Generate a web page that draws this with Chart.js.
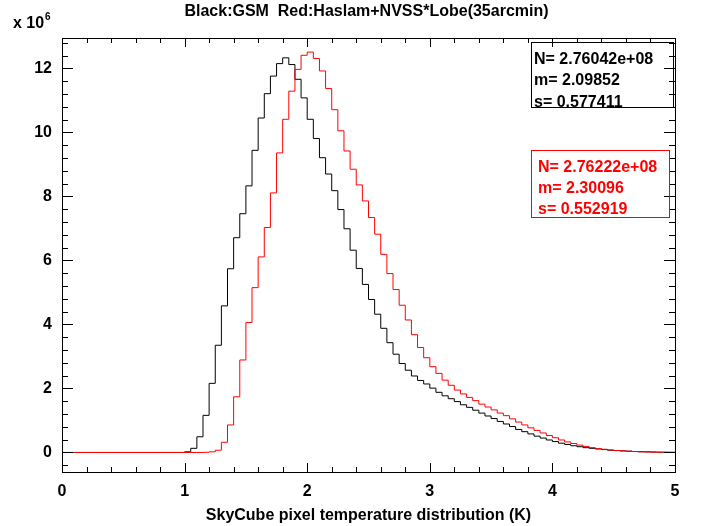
<!DOCTYPE html>
<html>
<head>
<meta charset="utf-8">
<script src="https://cdn.jsdelivr.net/npm/chart.js@4.4.0/dist/chart.umd.min.js"></script>
<style>
  html, body { margin: 0; padding: 0; background: #fff; }
  canvas { display: block; }
</style>
</head>
<body>
<canvas id="chart" width="701" height="526"></canvas>
<script>
"use strict";

// histogram bins: 100 bins of 0.05 K from 0 to 5 K
var binStart = 0;
var binWidth = 0.05;

// pixel counts per bin, in units of 10^6
var gsmCounts = [
  0, 0, 0, 0, 0, 0, 0, 0, 0, 0,
  0, 0, 0, 0, 0, 0, 0, 0, 0, 0,
  0.02, 0.13, 0.49, 1.16, 2.16, 3.35, 4.58, 5.74, 6.71, 7.46,
  8.33, 9.44, 10.45, 11.21, 11.76, 12.15, 12.33, 12.12, 11.66, 11.08,
  10.41, 9.81, 9.21, 8.70, 8.18, 7.59, 6.99, 6.32, 5.75, 5.25,
  4.78, 4.32, 3.88, 3.43, 3.07, 2.78, 2.57, 2.39, 2.25, 2.14,
  2.01, 1.88, 1.77, 1.68, 1.59, 1.49, 1.41, 1.32, 1.23, 1.14,
  1.06, 0.97, 0.89, 0.81, 0.72, 0.65, 0.58, 0.51, 0.45, 0.39,
  0.34, 0.29, 0.25, 0.21, 0.18, 0.15, 0.13, 0.11, 0.09, 0.07,
  0.06, 0.05, 0.04, 0.03, 0.025, 0.02, 0.015, 0.01, 0.007, 0.005
];

var haslamCounts = [
  0, 0, 0, 0, 0, 0, 0, 0, 0, 0,
  0, 0, 0, 0, 0, 0, 0, 0, 0, 0,
  0, 0, 0, 0.005, 0.02, 0.07, 0.32, 0.86, 1.74, 2.89,
  4.06, 5.15, 6.11, 7.03, 8.11, 9.36, 10.41, 11.29, 11.97, 12.41,
  12.51, 12.31, 11.92, 11.37, 10.71, 10.05, 9.42, 8.85, 8.36, 7.86,
  7.34, 6.82, 6.19, 5.59, 5.09, 4.60, 4.14, 3.68, 3.28, 2.96,
  2.68, 2.47, 2.26, 2.10, 1.95, 1.83, 1.72, 1.62, 1.51, 1.42,
  1.33, 1.23, 1.15, 1.05, 0.95, 0.86, 0.77, 0.69, 0.61, 0.53,
  0.46, 0.39, 0.33, 0.28, 0.23, 0.19, 0.15, 0.12, 0.10, 0.08,
  0.06, 0.05, 0.04, 0.03, 0.02, 0.015, 0.01, 0.007, 0.005, 0.003
];

var xTicks = [0, 1, 2, 3, 4, 5];
var yTicks = [0, 2, 4, 6, 8, 10, 12];

var gsmStats = ['N= 2.76042e+08', 'm= 2.09852', 's= 0.577411'];
var haslamStats = ['N= 2.76222e+08', 'm= 2.30096', 's= 0.552919'];

var titleText = 'Black:GSM  Red:Haslam+NVSS*Lobe(35arcmin)';
var xTitleText = 'SkyCube pixel temperature distribution (K)';

var FAMILY = '"Liberation Sans", Arial, Helvetica, sans-serif';
var RED = '#ff0000';

// left edge of every bin + closing edge, value held until next edge
function toSteps(counts) {
    var pts = [];
    for (var i = 0; i <= counts.length; i++) {
        var x = +(binStart + i * binWidth).toFixed(4);
        pts.push({x: x, y: counts[Math.min(i, counts.length - 1)]});
    }
    return pts;
}

var idlFrame = {
    id: 'idlFrame',
    afterDatasetsDraw: function(chart) {
        var ctx = chart.ctx;
        var a = chart.chartArea;
        var xs = chart.scales.x, ys = chart.scales.y;
        ctx.save();
        ctx.strokeStyle = '#000';
        ctx.lineWidth = 1;
        ctx.strokeRect(Math.round(a.left) + 0.5, Math.round(a.top) + 0.5,
            Math.round(a.right - a.left), Math.round(a.bottom - a.top));

        ctx.beginPath();
        // x ticks, inward on bottom and top
        for (var k = 0; k <= 25; k++) {
            var v = xs.min + k * 0.2;
            var px = Math.round(xs.getPixelForValue(v)) + 0.5;
            var len = (k % 5 === 0) ? 9 : 5;
            ctx.moveTo(px, a.bottom); ctx.lineTo(px, a.bottom - len);
            ctx.moveTo(px, a.top); ctx.lineTo(px, a.top + len);
        }
        // y ticks, inward on left and right
        for (var j = -1; j <= 32; j++) {
            var yv = j * 0.4;
            if (yv < ys.min || yv > ys.max) continue;
            var py = Math.round(ys.getPixelForValue(yv)) + 0.5;
            var ylen = (j % 5 === 0) ? 11 : 6;
            ctx.moveTo(a.left, py); ctx.lineTo(a.left + ylen, py);
            ctx.moveTo(a.right, py); ctx.lineTo(a.right - ylen, py);
        }
        ctx.stroke();
        ctx.restore();
    },
    afterDraw: function(chart) {
        var ctx = chart.ctx;
        var a = chart.chartArea;
        var cx = (a.left + a.right) / 2;
        ctx.save();
        ctx.fillStyle = '#000';
        ctx.textBaseline = 'alphabetic';

        ctx.font = 'bold 16px ' + FAMILY;
        ctx.textAlign = 'center';
        ctx.fillText(titleText, cx - 2, 16);
        ctx.fillText(xTitleText, cx, 520);

        ctx.textAlign = 'left';
        ctx.fillText('x 10', 13, 28);
        ctx.font = 'bold 10px ' + FAMILY;
        ctx.fillText('6', 45, 20);

        // stats boxes
        ctx.font = 'bold 16px ' + FAMILY;
        ctx.lineWidth = 1;
        ctx.strokeStyle = '#000';
        ctx.strokeRect(531.5, 42.5, 142, 65);
        gsmStats.forEach(function(t, i) {
            ctx.fillText(t, 534, 63.5 + i * 21.5);
        });

        ctx.strokeStyle = RED;
        ctx.fillStyle = RED;
        ctx.strokeRect(531.5, 150.5, 138, 67);
        haslamStats.forEach(function(t, i) {
            ctx.fillText(t, 538, 172 + i * 21);
        });
        ctx.restore();
    }
};

var ctx = document.getElementById('chart').getContext('2d');
var tickFont = {family: FAMILY, size: 16, weight: 'bold'};

var chart = new Chart(ctx, {
    type: 'line',
    data: {
        datasets: [
            {
                label: 'GSM',
                data: toSteps(gsmCounts),
                borderColor: '#000000',
                borderWidth: 1,
                pointRadius: 0,
                stepped: true,
                fill: false,
                order: 2
            },
            {
                label: 'Haslam+NVSS*Lobe',
                data: toSteps(haslamCounts),
                borderColor: RED,
                borderWidth: 1,
                pointRadius: 0,
                stepped: true,
                fill: false,
                order: 1
            }
        ]
    },
    options: {
        responsive: false,
        animation: false,
        events: [],
        layout: {padding: {top: 38, right: 26, left: 0, bottom: 0}},
        plugins: {
            legend: {display: false},
            tooltip: {enabled: false},
            title: {display: false}
        },
        scales: {
            x: {
                type: 'linear',
                min: 0,
                max: 5,
                grid: {display: false, drawTicks: false},
                border: {display: false},
                ticks: {font: tickFont, color: '#000', padding: 10, maxRotation: 0},
                afterBuildTicks: function(s) {
                    s.ticks = xTicks.map(function(v) { return {value: v}; });
                },
                afterFit: function(s) { s.height = 54; }
            },
            y: {
                type: 'linear',
                min: -0.61,
                max: 12.95,
                grid: {display: false, drawTicks: false},
                border: {display: false},
                ticks: {font: tickFont, color: '#000', padding: 10},
                afterBuildTicks: function(s) {
                    s.ticks = yTicks.map(function(v) { return {value: v}; });
                },
                afterFit: function(s) { s.width = 62; }
            }
        }
    },
    plugins: [idlFrame]
});
</script>
</body>
</html>
